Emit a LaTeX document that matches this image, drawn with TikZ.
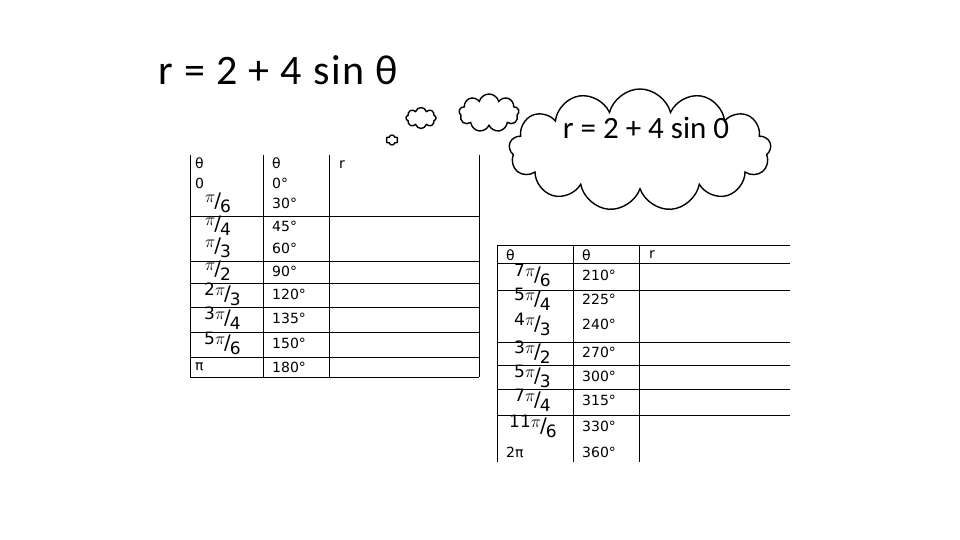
\documentclass[tikz,border=0pt]{standalone}
\usepackage{fontspec}
\setmainfont{DejaVu Sans}
\newfontfamily\calfont{Carlito}
\usetikzlibrary{shapes.symbols}
\newcommand\fr[2]{\raisebox{5pt}{\fontsize{17}{17}\selectfont#1}\kern-1pt{\fontsize{20}{20}\selectfont/}\kern-1pt\raisebox{-5pt}{\fontsize{17}{17}\selectfont#2}}
\newcommand\pp{$\pi$}
\begin{document}
\begin{tikzpicture}[x=1pt,y=-1pt,
  grid/.style={line width=0.8pt},
  cell/.style={anchor=west,inner sep=0pt,font=\fontsize{14}{14}\selectfont},
  cl/.style={cloud,draw,line width=1.4pt,cloud puffs=#1,aspect=1.6,inner sep=0pt}]
\useasboundingbox (0,0) rectangle (960,540);
\node[anchor=west,inner sep=0pt,font=\calfont\fontsize{42}{42}\selectfont\addfontfeature{LetterSpace=4}] (title) at (158,70) {r = 2 + 4 sin θ};
% clouds
\node[cl=13,minimum width=262pt,minimum height=122pt] (big) at (640,150) {};
\node[font=\calfont\fontsize{31}{31}\selectfont] (bt) at (646,128) {r = 2 + 4 sin 0};
\node[cl=9,minimum width=60pt,minimum height=38pt] (c2) at (489,113) {};
\node[cl=8,minimum width=30pt,minimum height=21pt] (c3) at (421,118) {};
\node[cl=6,minimum width=12pt,minimum height=10pt] (c4) at (392,140) {};
% table 1
\draw[grid] (190,155)--(190,377) (263,155)--(263,377) (329,155)--(329,377) (479,155)--(479,377);
\foreach \y in {216,261,283,307,332,357,377} \draw[grid] (190,\y)--(479,\y);
\node[cell] (a1) at (195,163) {θ}; \node[cell] (b1) at (272,163) {θ}; \node[cell] (r1) at (339,165) {r};
\node[cell] (a2) at (195,183) {0}; \node[cell] (b2) at (272,183) {0°};
\node[cell] (a3) at (205,203) {\fr{\pp}{6}}; \node[cell] (b3) at (272,203) {30°};
\node[cell] (a4) at (205,226) {\fr{\pp}{4}}; \node[cell] (b4) at (272,226) {45°};
\node[cell] (a5) at (205,248) {\fr{\pp}{3}}; \node[cell] (b5) at (272,248) {60°};
\node[cell] (a6) at (205,271) {\fr{\pp}{2}}; \node[cell] (b6) at (272,271) {90°};
\node[cell] (a7) at (204,294) {\fr{2\pp}{3}}; \node[cell] (b7) at (272,294) {120°};
\node[cell] (a8) at (204,318) {\fr{3\pp}{4}}; \node[cell] (b8) at (272,318) {135°};
\node[cell] (a9) at (204,343) {\fr{5\pp}{6}}; \node[cell] (b9) at (272,343) {150°};
\node[cell] (a10) at (195,367) {π}; \node[cell] (b10) at (272,367) {180°};
% table 2
\draw[grid] (497,245)--(497,462) (573,245)--(573,462) (639,245)--(639,462);
\foreach \y in {245,263,290,342,365,389,415} \draw[grid] (497,\y)--(790,\y);
\node[cell] (c1) at (506,255) {θ}; \node[cell] (d1) at (582,255) {θ}; \node[cell] (s1) at (649,255) {r};
\node[cell] (c2t) at (514,275) {\fr{7\pp}{6}}; \node[cell] (d2) at (582,275) {210°};
\node[cell] (c3t) at (514,299) {\fr{5\pp}{4}}; \node[cell] (d3) at (582,299) {225°};
\node[cell] (c4t) at (514,324) {\fr{4\pp}{3}}; \node[cell] (d4) at (582,324) {240°};
\node[cell] (c5) at (514,352) {\fr{3\pp}{2}}; \node[cell] (d5) at (582,352) {270°};
\node[cell] (c6) at (514,376) {\fr{5\pp}{3}}; \node[cell] (d6) at (582,376) {300°};
\node[cell] (c7) at (514,400) {\fr{7\pp}{4}}; \node[cell] (d7) at (582,400) {315°};
\node[cell] (c8) at (509,426) {\fr{11\pp}{6}}; \node[cell] (d8) at (582,426) {330°};
\node[cell] (c9) at (506,452) {2π}; \node[cell] (d9) at (582,452) {360°};
\end{tikzpicture}
\end{document}
